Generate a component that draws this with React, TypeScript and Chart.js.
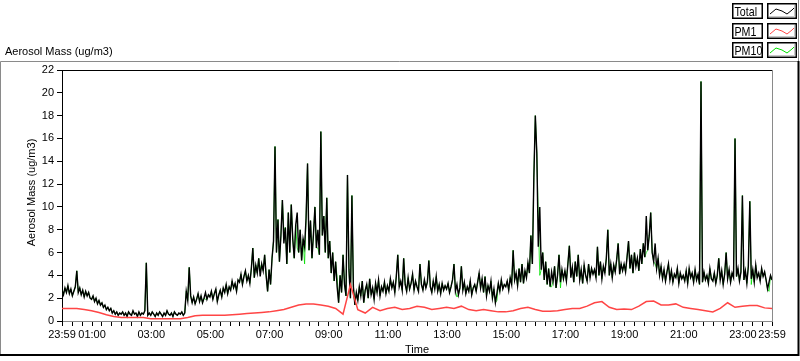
import React, { useEffect, useRef } from "react";
import { Chart, registerables } from "chart.js";

Chart.register(...registerables);

// ---- data (Total and PM10 every 3 minutes from 23:59, PM1 every 15 minutes) ----
const totalStepMin = 3;
const total = [
  2.7, 2.3, 2.9, 2.5, 3.1, 2.4, 2.8, 2.2, 2.6, 3.0, 4.4, 2.5, 2.9, 2.3, 2.7, 2.1, 2.6, 2.2, 2.5, 2.0,
  1.9, 2.2, 1.7, 2.0, 1.5, 1.8, 1.4, 1.6, 1.2, 1.4, 1.0, 1.2, 0.9, 1.1, 0.7, 0.9, 0.6, 0.8, 0.5, 0.7,
  0.6, 0.8, 0.5, 0.7, 0.4, 0.8, 0.6, 0.5, 0.9, 0.6, 0.7, 0.4, 0.8, 0.5, 0.7, 0.6, 0.9, 5.1, 0.5, 0.7,
  0.5, 0.8, 0.6, 0.4, 0.7, 0.5, 0.8, 0.6, 0.4, 0.7, 0.5, 0.9, 0.6, 0.5, 0.7, 0.4, 0.8, 0.6, 0.5, 0.7,
  0.6, 0.8, 0.5, 0.7, 2.6, 1.8, 4.7, 2.2, 1.6, 2.1, 1.5, 1.9, 2.4, 1.7, 2.2, 1.6, 2.0, 2.5, 1.9, 2.3,
  2.1, 2.6, 1.9, 2.4, 2.8, 1.7, 2.3, 2.7, 2.1, 2.9, 2.5, 3.2, 2.4, 3.0, 2.7, 3.5, 2.9, 3.3, 2.6, 3.6,
  3.4, 4.1, 3.2, 3.9, 4.4, 3.5, 4.0, 3.3, 4.6, 6.4, 3.8, 4.9, 4.2, 5.5, 3.9, 5.0, 4.4, 5.8, 4.0, 2.6,
  4.5, 3.2, 5.5, 7.0, 15.3, 6.0, 8.9, 5.2, 7.5, 10.6, 6.8, 8.2, 5.0, 9.5, 6.0, 10.2, 7.2, 5.5, 8.4, 9.5,
  6.0, 8.0, 5.3, 7.2, 6.5, 9.0, 13.8, 6.2, 8.8, 5.5, 7.6, 10.0, 6.4, 8.0, 5.8, 16.6, 7.5, 9.2, 6.0, 10.8,
  5.5, 7.0, 4.2, 6.0, 3.5, 5.2, 3.0, 1.6, 4.0, 2.5, 5.8, 3.2, 2.2, 12.8, 4.5, 2.0, 11.0, 3.0, 1.4, 2.5,
  1.8, 3.0, 2.2, 3.5, 1.6, 2.7, 3.2, 2.0, 3.7, 2.3, 2.9, 1.9, 3.3, 2.5, 3.6, 2.2, 3.0, 2.6, 3.4, 2.4,
  3.1, 2.6, 3.7, 2.9, 3.4, 2.5, 3.9, 5.8, 3.0, 3.5, 2.7, 5.5, 3.2, 2.6, 3.8, 2.8, 3.3, 4.1, 2.7, 3.5,
  3.0, 2.6, 5.0, 3.2, 2.7, 3.6, 2.9, 3.4, 5.3, 3.0, 2.5, 3.5, 2.8, 3.9, 2.6, 3.2, 2.4, 3.3, 2.7, 3.1,
  2.8, 3.3, 2.5, 3.0, 3.6, 5.0, 2.6, 3.2, 2.3, 2.9, 4.8, 2.7, 3.4, 2.4, 3.0, 2.6, 3.5, 2.3, 2.9, 3.2,
  2.6, 3.4, 4.2, 2.9, 3.7, 2.5, 3.9, 2.2, 3.1, 2.6, 3.5, 2.0, 2.8, 1.6, 2.4, 3.3, 2.6, 3.6, 2.8, 3.2,
  3.0, 3.5, 2.7, 3.8, 3.2, 6.2, 3.6, 4.2, 3.1, 4.6, 3.4, 5.0, 3.3, 4.4, 3.8, 5.1, 4.2, 7.5, 5.0, 12.6,
  18.0, 14.7, 6.5, 10.0, 4.5, 6.0, 3.6, 5.2, 3.2, 4.6, 3.0, 4.3, 3.5, 4.8, 2.9, 4.0, 5.8, 3.4, 4.5, 3.7,
  4.4, 3.5, 5.0, 6.6, 3.8, 4.7, 3.4, 5.2, 3.9, 5.8, 3.6, 4.5, 3.3, 4.9, 4.0, 3.5, 5.0, 3.8, 4.6, 4.1,
  4.5, 3.8, 6.5, 4.0, 5.2, 3.7, 4.8, 4.2, 5.5, 8.0, 4.0, 5.0, 3.8, 4.9, 4.3, 5.4, 6.8, 4.1, 5.0, 4.4,
  5.0, 4.3, 5.6, 7.0, 4.6, 5.8, 4.2, 6.0, 4.8, 5.5, 4.4, 6.3, 5.0, 6.8, 5.6, 9.2, 6.2, 7.5, 9.5, 6.0,
  5.2, 6.8, 4.6, 5.5, 4.0, 4.8, 3.7, 4.5, 3.5, 4.3, 5.0, 3.6, 4.4, 3.4, 4.1, 3.8, 4.6, 3.3, 4.2, 3.7,
  4.0, 3.5, 4.4, 3.3, 4.6, 3.8, 4.2, 3.4, 4.5, 3.6, 4.1, 3.2, 21.0, 3.4, 4.3, 3.6, 4.0, 3.3, 4.6, 3.7,
  3.5, 4.2, 3.3, 4.0, 5.5, 3.6, 4.4, 3.2, 4.1, 6.0, 3.7, 4.5, 3.4, 4.2, 3.8, 16.0, 3.9, 4.6, 3.5, 4.3,
  11.0, 3.6, 4.4, 3.3, 4.8, 10.5, 3.7, 4.5, 3.4, 4.9, 3.8, 4.2, 3.5, 4.6, 3.9, 4.3, 3.6, 2.8, 3.4, 4.0, 3.6,
];

const pm10StepMin = 3;
const pm10 = [
  2.7, 2.3, 2.9, 2.5, 3.1, 2.4, 2.8, 2.2, 2.6, 3.0, 4.4, 2.5, 2.9, 2.3, 2.7, 2.1, 2.6, 2.2, 2.5, 2.0,
  1.9, 2.2, 1.7, 2.0, 1.5, 1.8, 1.4, 1.6, 1.2, 1.4, 1.0, 1.2, 0.9, 1.1, 0.7, 0.9, 0.6, 0.8, 0.5, 0.7,
  0.6, 0.8, 0.5, 0.7, 0.4, 0.8, 0.6, 0.5, 0.9, 0.6, 0.7, 0.4, 0.8, 0.5, 0.7, 0.6, 0.9, 5.1, 0.5, 0.7,
  0.5, 0.8, 0.6, 0.4, 0.7, 0.5, 0.8, 0.6, 0.4, 0.7, 0.5, 0.9, 0.6, 0.5, 0.7, 0.4, 0.8, 0.6, 0.5, 0.7,
  0.6, 0.8, 0.5, 0.7, 2.6, 1.8, 4.7, 2.2, 1.6, 2.1, 1.5, 1.9, 2.4, 1.7, 2.2, 1.6, 2.0, 1.9, 1.9, 2.3,
  2.1, 2.6, 1.9, 2.4, 2.8, 1.7, 2.3, 2.7, 2.1, 2.9, 2.5, 3.2, 2.4, 3.0, 2.7, 3.5, 2.9, 3.3, 2.6, 3.6,
  3.4, 4.1, 3.2, 3.9, 4.4, 3.5, 4.0, 3.3, 4.6, 6.4, 3.8, 4.9, 4.2, 5.5, 4.5, 5.0, 4.4, 5.8, 4.0, 2.6,
  4.5, 3.2, 5.5, 7.0, 15.3, 6.0, 8.9, 5.2, 7.5, 10.6, 7.8, 8.2, 5.0, 9.5, 6.0, 10.2, 7.2, 5.5, 8.4, 6.4,
  6.0, 8.0, 5.3, 7.2, 5.0, 9.0, 13.8, 6.2, 8.8, 5.5, 7.6, 10.0, 6.4, 6.4, 5.8, 16.6, 7.5, 9.2, 6.0, 10.8,
  5.5, 7.0, 4.2, 6.0, 3.5, 5.2, 3.8, 1.6, 4.0, 2.5, 5.8, 3.2, 2.2, 12.8, 4.5, 2.0, 11.0, 3.0, 1.4, 2.5,
  1.8, 3.0, 2.2, 3.5, 1.6, 2.7, 3.2, 2.0, 3.7, 2.3, 2.9, 1.9, 3.3, 2.5, 3.6, 2.2, 3.0, 2.6, 3.4, 2.4,
  3.1, 2.6, 3.7, 2.9, 3.4, 2.5, 3.9, 5.8, 3.0, 3.5, 2.7, 5.5, 3.2, 2.6, 3.8, 2.8, 3.3, 4.1, 2.7, 3.5,
  3.0, 2.6, 5.0, 3.2, 2.7, 3.6, 2.9, 3.4, 5.3, 3.0, 2.5, 3.5, 2.8, 3.9, 2.6, 3.2, 2.4, 3.3, 2.7, 3.1,
  2.8, 3.3, 2.5, 3.0, 3.6, 5.0, 2.6, 2.1, 2.3, 2.9, 4.8, 2.7, 3.4, 2.4, 3.0, 2.6, 3.5, 2.3, 2.9, 3.2,
  2.6, 3.4, 4.2, 2.9, 3.7, 2.5, 3.9, 2.2, 3.1, 2.6, 3.5, 2.0, 2.8, 1.6, 1.8, 3.3, 2.6, 3.6, 2.8, 3.2,
  3.0, 3.5, 2.7, 3.8, 3.2, 6.2, 3.6, 4.2, 3.1, 4.6, 3.4, 5.0, 3.3, 4.4, 3.8, 5.1, 4.2, 7.5, 5.0, 12.6,
  18.0, 14.7, 9.0, 4.0, 4.5, 6.0, 3.6, 5.2, 3.2, 4.6, 3.0, 3.0, 3.5, 4.8, 2.9, 4.0, 5.8, 2.9, 4.5, 3.7,
  4.4, 3.5, 5.0, 6.6, 4.3, 4.7, 3.4, 5.2, 3.9, 5.8, 3.6, 4.5, 3.3, 4.9, 4.0, 3.5, 5.0, 3.8, 4.6, 4.1,
  4.5, 3.8, 6.5, 4.0, 5.2, 3.7, 4.8, 4.2, 5.5, 8.0, 4.0, 5.0, 3.8, 4.9, 4.3, 5.4, 6.8, 4.1, 5.0, 4.4,
  5.0, 4.3, 5.6, 7.0, 4.6, 5.8, 4.2, 6.0, 4.8, 5.5, 4.4, 6.3, 5.0, 6.8, 5.6, 6.0, 6.2, 7.5, 9.5, 6.0,
  5.2, 5.0, 4.6, 5.5, 4.0, 4.8, 3.7, 4.5, 3.5, 4.3, 5.0, 3.6, 4.4, 3.4, 4.1, 3.8, 4.6, 3.3, 4.2, 3.7,
  4.0, 3.5, 4.4, 3.3, 4.6, 3.8, 4.2, 3.4, 4.5, 3.6, 4.1, 3.2, 21.0, 3.4, 4.3, 3.6, 4.0, 3.3, 4.6, 3.7,
  3.5, 4.2, 3.3, 4.0, 5.5, 3.6, 4.4, 3.2, 4.1, 6.0, 3.7, 4.5, 3.4, 4.2, 3.8, 16.0, 3.9, 4.6, 3.5, 4.3,
  11.0, 3.6, 4.4, 3.3, 4.8, 10.5, 3.2, 4.5, 3.4, 4.9, 3.8, 4.2, 3.5, 4.6, 3.9, 4.3, 3.6, 2.8, 2.6, 4.0, 3.6,
];

const pm1StepMin = 15;
const pm1 = [
  1.1, 1.1, 1.1, 1.0, 0.9, 0.75, 0.55, 0.4, 0.3, 0.3, 0.3, 0.3,
  0.2, 0.2, 0.2, 0.2, 0.2, 0.3, 0.45, 0.5, 0.5, 0.5, 0.5, 0.55,
  0.6, 0.65, 0.7, 0.75, 0.8, 0.9, 1.0, 1.2, 1.4, 1.5, 1.5, 1.4,
  1.3, 1.1, 0.6, 3.2, 1.0, 0.7, 1.2, 0.9, 1.1, 1.2, 1.0, 1.1,
  1.3, 1.2, 1.0, 1.1, 1.2, 1.1, 1.3, 1.0, 0.9, 1.0, 0.9, 0.8,
  0.8, 0.9, 1.1, 1.2, 1.0, 0.85, 0.85, 0.9, 1.0, 1.1, 1.1, 1.3,
  1.6, 1.7, 1.2, 1.0, 1.05, 1.0, 1.3, 1.7, 1.75, 1.4, 1.4, 1.5,
  1.2, 1.1, 1.0, 0.9, 0.8, 1.1, 1.6, 1.2, 1.3, 1.35, 1.35, 1.15, 1.1,
];

const yMin = 0;
const yMax = 22;
const yStep = 2;
const xMaxMin = 1440;
const minorTickStepMin = 20;
const labelMinutes = [0, 61, 181, 301, 421, 541, 661, 781, 901, 1021, 1141, 1261, 1381, 1440];
const timeLabels = ["23:59", "01:00", "03:00", "05:00", "07:00", "09:00", "11:00", "13:00", "15:00", "17:00", "19:00", "21:00", "23:00", "23:59"];

const seriesNames = ["Total", "PM1", "PM10"];
const seriesColors = ["#000000", "#ff4545", "#00e000"];

const FONT = '"Liberation Sans", Arial, sans-serif';

function toPoints(values: number[], step: number) {
  return values.map((v, i) => ({ x: i * step, y: v }));
}

const framePlugin = {
  id: "labviewFrame",
  beforeDraw(chart: any) {
    const ctx = chart.ctx;
    ctx.save();
    ctx.fillStyle = "#ffffff";
    ctx.fillRect(0, 0, chart.width, chart.height);
    ctx.restore();
  },
  afterDraw(chart: any) {
    const ctx = chart.ctx as CanvasRenderingContext2D;
    const { left, top, right, bottom } = chart.chartArea;
    ctx.save();
    ctx.lineWidth = 1;
    ctx.strokeStyle = "#000";
    ctx.beginPath();
    ctx.moveTo(left, top + 0.5);
    ctx.lineTo(right, top + 0.5);
    ctx.stroke();
    ctx.strokeStyle = "#8a8a8a";
    ctx.beginPath();
    ctx.moveTo(right + 0.5, top);
    ctx.lineTo(right + 0.5, bottom + 1);
    ctx.stroke();

    // outer frame
    ctx.strokeStyle = "#8a8a8a";
    ctx.beginPath();
    ctx.moveTo(0.5, 354);
    ctx.lineTo(0.5, 61.5);
    ctx.lineTo(798, 61.5);
    ctx.stroke();
    ctx.beginPath();
    ctx.moveTo(798.5, 0);
    ctx.lineTo(798.5, 61);
    ctx.stroke();
    ctx.strokeStyle = "#000";
    ctx.lineWidth = 2;
    ctx.beginPath();
    ctx.moveTo(0, 355);
    ctx.lineTo(798.5, 355);
    ctx.moveTo(798.5, 61);
    ctx.lineTo(798.5, 356);
    ctx.stroke();

    // titles
    ctx.fillStyle = "#000";
    ctx.font = `11px ${FONT}`;
    ctx.textAlign = "left";
    ctx.textBaseline = "alphabetic";
    ctx.fillText("Aerosol Mass (ug/m3)", 5, 55);

    ctx.textAlign = "center";
    ctx.textBaseline = "alphabetic";
    ctx.fillText("Time", (left + right) / 2, 353);

    ctx.save();
    ctx.translate(32, (top + bottom) / 2 - 3);
    ctx.rotate(-Math.PI / 2);
    ctx.textBaseline = "middle";
    ctx.fillText("Aerosol Mass (ug/m3)", 0, 0);
    ctx.restore();

    // legend
    const boxX = 732, boxW = 31, sampleX = 767, sampleW = 30, boxH = 16;
    const rowsY = [3, 23, 42];
    seriesNames.forEach((name, i) => {
      const y = rowsY[i];
      ctx.lineWidth = 1.5;
      ctx.strokeStyle = "#000";
      ctx.fillStyle = "#fff";
      ctx.fillRect(boxX, y, boxW, boxH);
      ctx.strokeRect(boxX + 0.75, y + 0.75, boxW - 1.5, boxH - 1.5);
      ctx.fillStyle = "#000";
      ctx.save();
      ctx.font = `13px ${FONT}`;
      ctx.translate(boxX + 2.5, y + boxH / 2 + 1);
      ctx.scale(0.82, 1);
      ctx.textAlign = "left";
      ctx.textBaseline = "middle";
      ctx.fillText(name, 0, 0);
      ctx.restore();

      ctx.fillStyle = "#fff";
      ctx.fillRect(sampleX, y, sampleW, boxH);
      ctx.lineWidth = 1.5;
      ctx.strokeStyle = "#000";
      ctx.strokeRect(sampleX + 0.75, y + 0.75, sampleW - 1.5, boxH - 1.5);
      ctx.strokeStyle = "#c8c8c8";
      ctx.lineWidth = 1;
      ctx.beginPath();
      ctx.moveTo(sampleX + 2, y + boxH - 2.5);
      ctx.lineTo(sampleX + sampleW - 2.5, y + boxH - 2.5);
      ctx.lineTo(sampleX + sampleW - 2.5, y + 2);
      ctx.stroke();
      ctx.strokeStyle = seriesColors[i];
      ctx.lineWidth = 1;
      ctx.beginPath();
      const pts = [[3, 11], [9, 6], [15, 8], [20, 11], [25, 7], [27, 5]];
      pts.forEach(([px, py], k) => {
        if (k === 0) ctx.moveTo(sampleX + px, y + py);
        else ctx.lineTo(sampleX + px, y + py);
      });
      ctx.stroke();
    });
    ctx.restore();
  },
};

export default function App() {
  const canvasRef = useRef<HTMLCanvasElement | null>(null);

  useEffect(() => {
    document.body.style.margin = "0";
    const canvas = canvasRef.current;
    if (!canvas) return;

    const tickValues: number[] = [0];
    for (let m = 1 + minorTickStepMin; m < xMaxMin; m += minorTickStepMin) tickValues.push(m);
    tickValues.push(xMaxMin);

    const chart = new Chart(canvas, {
      type: "line",
      data: {
        datasets: [
          {
            label: "PM1",
            data: toPoints(pm1, pm1StepMin),
            borderColor: seriesColors[1],
            borderWidth: 1.5,
            pointRadius: 0,
            tension: 0,
          },
          {
            label: "Total",
            data: toPoints(total, totalStepMin),
            borderColor: seriesColors[0],
            borderWidth: 1.4,
            pointRadius: 0,
            tension: 0,
          },
          {
            label: "PM10",
            data: toPoints(pm10, pm10StepMin),
            borderColor: seriesColors[2],
            borderWidth: 0.8,
            pointRadius: 0,
            tension: 0,
          },
        ],
      },
      options: {
        animation: false,
        responsive: false,
        maintainAspectRatio: false,
        layout: { padding: { left: 0, top: 70, right: 28, bottom: 0 } },
        plugins: {
          legend: { display: false },
          tooltip: { enabled: false },
          title: { display: false },
        },
        scales: {
          x: {
            type: "linear",
            min: 0,
            max: xMaxMin,
            afterBuildTicks: (scale: any) => {
              scale.ticks = tickValues.map((v) => ({ value: v }));
            },
            afterFit: (scale: any) => {
              scale.height = 40;
            },
            ticks: {
              autoSkip: false,
              maxRotation: 0,
              minRotation: 0,
              padding: 2,
              color: "#000",
              font: { family: FONT, size: 11 },
              callback: (value: any) => {
                const idx = labelMinutes.indexOf(Number(value));
                return idx >= 0 ? timeLabels[idx] : "";
              },
            },
            grid: {
              drawOnChartArea: false,
              drawTicks: true,
              tickLength: 5,
              color: "#000",
            },
            border: { display: true, color: "#8a8a8a", width: 1 },
          },
          y: {
            type: "linear",
            min: yMin,
            max: yMax,
            afterFit: (scale: any) => {
              scale.width = 62;
            },
            ticks: {
              stepSize: yStep,
              padding: 3,
              color: "#000",
              font: { family: FONT, size: 11 },
            },
            grid: {
              drawOnChartArea: false,
              drawTicks: true,
              tickLength: 5,
              color: "#000",
            },
            border: { display: true, color: "#000", width: 1 },
          },
        },
      },
      plugins: [framePlugin],
    });

    return () => chart.destroy();
  }, []);

  return (
    <div style={{ width: 800, height: 361, position: "relative", background: "#fff" }}>
      <canvas ref={canvasRef} width={800} height={361} style={{ display: "block", width: 800, height: 361 }} />
    </div>
  );
}
